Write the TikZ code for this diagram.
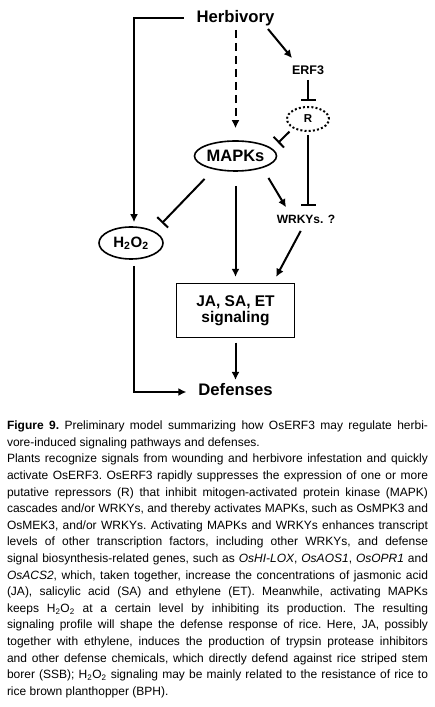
\documentclass[tikz,border=0pt]{standalone}
\usepackage{fontspec}
\setmainfont{Liberation Sans}
\usepackage{tikz}
\usetikzlibrary{arrows.meta,shapes.geometric,positioning}
\setlength{\parindent}{0pt}

\begin{document}
\begin{tikzpicture}[x=1pt,y=1pt,line width=2pt,>={Latex[length=8pt,width=8pt]},
    lbl/.style={inner sep=0pt,font=\bfseries\fontsize{#1}{#1}\selectfont},
    oval/.style={ellipse,draw,line width=1.6pt,inner sep=0pt},
    inh/.style={-{Bar[width=15pt]}}]
    \useasboundingbox (0,0) rectangle (435,707);
    % nodes
    \node [lbl=16.7] (herb) at (235.5,689.3) {Herbivory};
    \node [lbl=12.5] (erf) at (308,636.5) {ERF3};
    \node [oval,dash pattern=on 2pt off 2.2pt,line width=2pt,minimum width=42pt,minimum height=24pt,
        font=\bfseries\fontsize{11.5}{11.5}\selectfont] (r) at (308,588) {R};
    \node [oval,minimum width=82pt,minimum height=30pt,
        font=\bfseries\fontsize{16.5}{16.5}\selectfont] (mapk) at (235.5,551) {MAPKs};
    \node [lbl=12] (wrky) at (306,487.5) {WRKYs. ?};
    \node [oval,minimum width=64pt,minimum height=32pt,
        font=\bfseries\fontsize{15}{15}\selectfont] (h2o2) at (131,464) {H\textsubscript{2}O\textsubscript{2}};
    \node [draw,line width=1.3pt,minimum width=118pt,minimum height=54pt,align=center,
        font=\bfseries\fontsize{15.5}{16.5}\selectfont] (sig) at (235.5,396.5) {JA, SA, ET\\signaling};
    \node [lbl=16.7] (def) at (235.5,317.5) {Defenses};
    % connectors
    \draw [->,shorten <=12pt,shorten >=4pt] (herb.west) -| ([xshift=3pt]h2o2.north);
    \draw [->,dash pattern=on 8pt off 5pt,shorten <=3.5pt,shorten >=12pt] (herb.south) -- (mapk.north);
    \draw [->] ([shift={(-7.5pt,-2.5pt)}]herb.south east) -- ([shift={(1pt,7pt)}]erf.north west);
    \draw [inh,shorten <=4pt,shorten >=5pt] (erf.south) -- (r.north);
    \draw [inh] ([shift={(-3pt,-3.5pt)}]r.south west) -- ([shift={(13pt,2pt)}]mapk.north east);
    \draw [inh,shorten <=3pt,shorten >=8pt] (r.south) -- (r.south |- wrky.north);
    \draw [->] ([shift={(3.4pt,-10.8pt)}]mapk.south east) -- ([shift={(-20pt,7pt)}]wrky.north);
    \draw [inh] ([shift={(-1.4pt,-11.8pt)}]mapk.south west) -- ([shift={(7.8pt,8pt)}]h2o2.north east);
    \draw [->,shorten <=14pt,shorten >=6pt] (mapk.south) -- (sig.north);
    \draw [->,shorten <=7pt] ([xshift=-2pt]wrky.south) -- ([shift={(-19pt,6pt)}]sig.north east);
    \draw [->,shorten <=4.5pt,shorten >=2.4pt] (sig.south) -- (def.north);
    \draw [->,shorten <=6pt,shorten >=11pt] ([xshift=3pt]h2o2.south) |- ([yshift=-2.5pt]def.west);
    % caption
    \node [anchor=north west,inner sep=0pt,text width=421pt,align=justify,
        font=\fontsize{12}{16.6}\selectfont] (cap) at (6,287) {%
        \frenchspacing\hyphenpenalty=10000 \exhyphenpenalty=10000
        \spaceskip=0.278em plus 0.25em minus 0.12em
        {\bfseries Figure 9.} Preliminary model summarizing how OsERF3 may regulate herbi-\linebreak
        vore-induced signaling pathways and defenses.\par
        Plants recognize signals from wounding and herbivore infestation and quickly\linebreak
        activate OsERF3. OsERF3 rapidly suppresses the expression of one or more\linebreak
        putative repressors (R) that inhibit mitogen-activated protein kinase (MAPK)\linebreak
        cascades and/or WRKYs, and thereby activates MAPKs, such as OsMPK3 and\linebreak
        OsMEK3, and/or WRKYs. Activating MAPKs and WRKYs enhances transcript\linebreak
        levels of other transcription factors, including other WRKYs, and defense\linebreak
        signal biosynthesis-related genes, such as \textit{OsHI-LOX}, \textit{OsAOS1}, \textit{OsOPR1} and\linebreak
        \textit{OsACS2}, which, taken together, increase the concentrations of jasmonic acid\linebreak
        (JA), salicylic acid (SA) and ethylene (ET). Meanwhile, activating MAPKs\linebreak
        keeps H\textsubscript{2}O\textsubscript{2} at a certain level by inhibiting its production. The resulting\linebreak
        signaling profile will shape the defense response of rice. Here, JA, possibly\linebreak
        together with ethylene, induces the production of trypsin protease inhibitors\linebreak
        and other defense chemicals, which directly defend against rice striped stem\linebreak
        borer (SSB); H\textsubscript{2}O\textsubscript{2} signaling may be mainly related to the resistance of rice to\linebreak
        rice brown planthopper (BPH).};
\end{tikzpicture}
\end{document}
